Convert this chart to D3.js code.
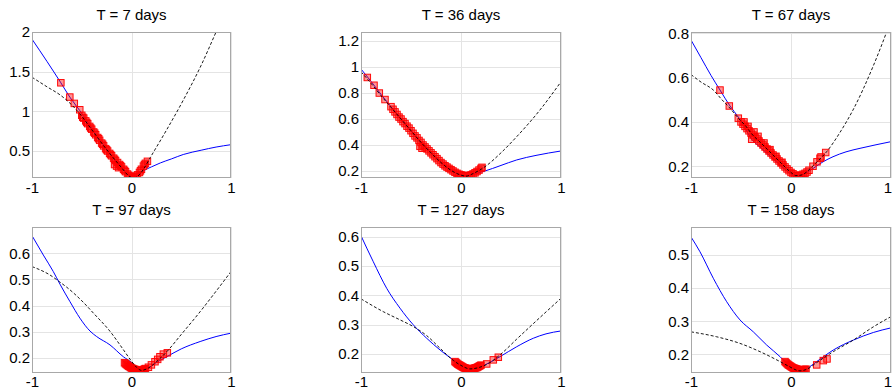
<!DOCTYPE html>
<html>
<head>
<meta charset="utf-8">
<script src="https://cdn.jsdelivr.net/npm/d3@7"></script>
<style>
  html, body { margin: 0; padding: 0; background: #fff; }
  svg { display: block; font-family: "Liberation Sans", Arial, sans-serif; }
</style>
</head>
<body>
<svg id="chart" width="893" height="390"></svg>
<script>
// ---- maturities (panel titles) ----
const maturities = ["T = 7 days", "T = 36 days", "T = 67 days", "T = 97 days", "T = 127 days", "T = 158 days"];

// ---- x axis: log-moneyness ----
const xTicks = [-1, 0, 1];

// ---- y tick labels per maturity ----
const yTicks7 = [0.5, 1, 1.5, 2];
const yTicks36 = [0.2, 0.4, 0.6, 0.8, 1, 1.2];
const yTicks67 = [0.2, 0.4, 0.6, 0.8];
const yTicks97 = [0.2, 0.3, 0.4, 0.5, 0.6];
const yTicks127 = [0.2, 0.3, 0.4, 0.5, 0.6];
const yTicks158 = [0.2, 0.3, 0.4, 0.5];

// ---- vertical ranges per maturity ----
const yRange7 = [0.16, 2.0];
const yRange36 = [0.146, 1.27];
const yRange67 = [0.147, 0.806];
const yRange97 = [0.143, 0.70];
const yRange127 = [0.134, 0.634];
const yRange158 = [0.1435, 0.585];

// ---- solid (blue) smile, [k, vol] ----
const solid7 = [[-1,1.91],[-0.85,1.63],[-0.71,1.36],[-0.62,1.18],[-0.52,1.01],[-0.4,0.79],[-0.3,0.61],[-0.2,0.44],[-0.1,0.29],[-0.03,0.19],[0,0.165],[0.05,0.18],[0.12,0.25],[0.2,0.30],[0.29,0.35],[0.4,0.40],[0.52,0.456],[0.7,0.51],[0.85,0.55],[1,0.58]];
const solid36 = [[-1,0.985],[-0.9,0.89],[-0.8,0.79],[-0.7,0.695],[-0.6,0.60],[-0.5,0.51],[-0.4,0.42],[-0.3,0.34],[-0.2,0.265],[-0.1,0.21],[0,0.17],[0.05,0.163],[0.12,0.175],[0.24,0.20],[0.39,0.24],[0.557,0.285],[0.75,0.32],[1,0.354]];
const solid67 = [[-1,0.77],[-0.9,0.69],[-0.8,0.61],[-0.71,0.544],[-0.61,0.472],[-0.527,0.422],[-0.477,0.386],[-0.393,0.322],[-0.3,0.283],[-0.243,0.259],[-0.15,0.222],[-0.05,0.182],[0.03,0.158],[0.08,0.156],[0.15,0.17],[0.22,0.19],[0.32,0.22],[0.42,0.243],[0.55,0.265],[0.69,0.281],[0.85,0.297],[1,0.311]];
const solid97 = [[-1,0.667],[-0.886,0.593],[-0.786,0.530],[-0.719,0.482],[-0.618,0.415],[-0.518,0.352],[-0.417,0.303],[-0.35,0.282],[-0.216,0.25],[-0.082,0.205],[0,0.183],[0.05,0.163],[0.1,0.155],[0.17,0.163],[0.25,0.183],[0.354,0.205],[0.5,0.235],[0.69,0.263],[0.85,0.282],[1,0.295]];
const solid127 = [[-1,0.604],[-0.877,0.515],[-0.743,0.424],[-0.61,0.356],[-0.477,0.299],[-0.343,0.253],[-0.21,0.213],[-0.077,0.179],[0,0.162],[0.09,0.15],[0.17,0.153],[0.257,0.165],[0.39,0.19],[0.557,0.224],[0.723,0.253],[0.85,0.268],[1,0.278]];
const solid158 = [[-1,0.555],[-0.91,0.51],[-0.777,0.43],[-0.643,0.359],[-0.51,0.304],[-0.377,0.268],[-0.243,0.228],[-0.11,0.193],[-0.06,0.178],[0,0.166],[0.09,0.153],[0.16,0.158],[0.257,0.178],[0.423,0.213],[0.623,0.243],[0.823,0.266],[1,0.28]];

// ---- dashed (black) smile, [k, vol] ----
const dashed7 = [[-1,1.43],[-0.85,1.31],[-0.71,1.20],[-0.6,1.08],[-0.52,0.97],[-0.4,0.77],[-0.3,0.60],[-0.2,0.44],[-0.1,0.29],[-0.03,0.19],[0.02,0.16],[0.06,0.18],[0.12,0.27],[0.19,0.42],[0.35,0.76],[0.52,1.14],[0.7,1.58],[0.85,2.0],[1,2.42]];
const dashed36 = [[-1,0.964],[-0.9,0.875],[-0.8,0.78],[-0.7,0.69],[-0.6,0.60],[-0.5,0.51],[-0.4,0.42],[-0.3,0.34],[-0.2,0.265],[-0.1,0.205],[0,0.168],[0.05,0.16],[0.12,0.18],[0.24,0.233],[0.4,0.34],[0.557,0.464],[0.79,0.67],[1,0.887]];
const dashed67 = [[-1,0.614],[-0.9,0.58],[-0.777,0.544],[-0.69,0.50],[-0.61,0.462],[-0.527,0.417],[-0.45,0.38],[-0.4,0.35],[-0.3,0.305],[-0.2,0.26],[-0.1,0.215],[0,0.172],[0.05,0.158],[0.1,0.16],[0.15,0.172],[0.2,0.193],[0.25,0.215],[0.357,0.266],[0.5,0.36],[0.62,0.454],[0.82,0.65],[0.957,0.807],[1,0.86]];
const dashed97 = [[-1,0.549],[-0.82,0.517],[-0.72,0.49],[-0.65,0.47],[-0.485,0.413],[-0.384,0.372],[-0.216,0.302],[-0.082,0.232],[0,0.188],[0.05,0.165],[0.1,0.153],[0.17,0.162],[0.25,0.186],[0.354,0.224],[0.5,0.29],[0.69,0.377],[0.85,0.455],[1,0.53]];
const dashed127 = [[-1,0.388],[-0.777,0.344],[-0.61,0.316],[-0.477,0.293],[-0.343,0.262],[-0.21,0.219],[-0.077,0.177],[0,0.16],[0.09,0.148],[0.17,0.152],[0.257,0.163],[0.39,0.196],[0.557,0.25],[0.723,0.303],[1,0.39]];
const dashed158 = [[-1,0.268],[-0.743,0.253],[-0.51,0.233],[-0.31,0.208],[-0.11,0.178],[-0.03,0.165],[0.09,0.15],[0.16,0.155],[0.257,0.175],[0.423,0.208],[0.623,0.243],[0.823,0.283],[1,0.314]];

// ---- market quotes (red squares), [k, vol] ----
const quotes7 = [[-0.71,1.36],[-0.62,1.18],[-0.575,1.10],[-0.52,1.02],
  [-0.50,0.95],[-0.48,0.915],[-0.46,0.88],[-0.44,0.845],[-0.42,0.81],[-0.40,0.775],[-0.38,0.74],[-0.36,0.705],[-0.34,0.67],[-0.32,0.635],[-0.30,0.60],[-0.28,0.565],[-0.26,0.53],[-0.24,0.50],[-0.22,0.47],[-0.20,0.44],[-0.18,0.41],[-0.16,0.38],[-0.14,0.355],[-0.12,0.33],[-0.10,0.30],[-0.08,0.27],[-0.06,0.24],[-0.04,0.21],[-0.02,0.185],[0,0.17],[0.02,0.165],[0.04,0.175],[0.06,0.20],[0.08,0.23],[0.10,0.27],[0.12,0.31],[0.14,0.345],[0.16,0.37],
  [-0.49,0.925],[-0.45,0.86],[-0.41,0.79],[-0.37,0.725],[-0.33,0.655],[-0.29,0.585],[-0.25,0.515],[-0.21,0.455],[-0.17,0.395],[-0.11,0.315],[-0.07,0.255],[-0.03,0.195],[0.01,0.165],[0.05,0.185],[0.09,0.25],[0.13,0.33],
  [-0.17,0.33],[-0.15,0.31],[-0.13,0.29]];
const quotes36 = [[-0.937,0.92],[-0.87,0.86],[-0.817,0.80],[-0.76,0.75],[-0.70,0.695],
  [-0.68,0.675],[-0.66,0.655],[-0.64,0.635],[-0.62,0.615],[-0.60,0.60],[-0.58,0.58],[-0.56,0.565],[-0.54,0.545],[-0.52,0.53],[-0.50,0.51],[-0.48,0.49],[-0.46,0.47],[-0.44,0.455],[-0.42,0.435],[-0.40,0.42],[-0.38,0.40],[-0.36,0.385],[-0.34,0.37],[-0.32,0.355],[-0.30,0.34],[-0.28,0.325],[-0.26,0.31],[-0.24,0.295],[-0.22,0.28],[-0.20,0.265],[-0.18,0.253],[-0.16,0.24],[-0.14,0.23],[-0.12,0.22],[-0.10,0.21],[-0.08,0.20],[-0.06,0.19],[-0.04,0.182],[-0.02,0.175],[0,0.17],[0.02,0.166],[0.04,0.163],[0.06,0.163],[0.08,0.165],[0.10,0.17],[0.12,0.177],[0.14,0.186],[0.16,0.196],[0.18,0.207],[0.20,0.22],[0.21,0.228],
  [-0.41,0.39],[-0.39,0.375]];
const quotes67 = [[-0.71,0.544],[-0.617,0.472],[-0.527,0.417],[-0.393,0.322],
  [-0.50,0.40],[-0.48,0.39],[-0.46,0.38],[-0.44,0.37],[-0.42,0.36],[-0.40,0.35],[-0.38,0.341],[-0.36,0.332],[-0.34,0.323],[-0.32,0.314],[-0.30,0.305],[-0.28,0.296],[-0.26,0.287],[-0.24,0.278],[-0.22,0.269],[-0.20,0.26],[-0.18,0.251],[-0.16,0.242],[-0.14,0.233],[-0.12,0.224],[-0.10,0.215],[-0.08,0.206],[-0.06,0.197],[-0.04,0.188],[-0.02,0.18],[0,0.172],[0.02,0.166],[0.04,0.16],[0.06,0.157],[0.08,0.157],[0.10,0.16],[0.12,0.164],[0.14,0.168],[0.16,0.174],[0.18,0.182],
  [-0.47,0.40],[-0.43,0.38],[-0.37,0.355],[-0.33,0.335],[-0.27,0.305],[-0.21,0.275],[-0.15,0.245],[-0.09,0.218],
  [0.22,0.20],[0.26,0.22],[0.29,0.236],[0.30,0.242],[0.347,0.262]];
const quotes97 = [[-0.07,0.182],[-0.06,0.178],[-0.05,0.175],[-0.04,0.172],[-0.03,0.169],[-0.02,0.167],[-0.01,0.164],[0,0.162],[0.01,0.16],[0.02,0.158],[0.03,0.157],[0.04,0.156],[0.05,0.155],[0.06,0.154],[0.07,0.153],[0.08,0.153],[0.09,0.153],[0.10,0.154],[0.11,0.155],[0.12,0.156],[0.13,0.158],[0.14,0.16],
  [0.17,0.165],[0.2,0.174],[0.236,0.186],[0.263,0.195],[0.286,0.205],[0.32,0.215],[0.36,0.22]];
const quotes127 = [[-0.06,0.173],[-0.05,0.17],[-0.04,0.167],[-0.03,0.164],[-0.02,0.162],[-0.01,0.16],[0,0.158],[0.01,0.156],[0.02,0.154],[0.03,0.152],[0.04,0.151],[0.05,0.15],[0.06,0.149],[0.07,0.148],[0.08,0.148],[0.09,0.148],[0.10,0.148],[0.11,0.148],[0.12,0.149],[0.13,0.15],[0.14,0.151],[0.15,0.152],[0.16,0.153],[0.17,0.155],[0.18,0.157],[0.19,0.159],[0.20,0.161],
  [0.257,0.165],[0.323,0.179],[0.373,0.188]];
const quotes158 = [[-0.06,0.178],[-0.05,0.175],[-0.04,0.172],[-0.03,0.169],[-0.02,0.167],[-0.01,0.165],[0,0.163],[0.01,0.161],[0.02,0.159],[0.03,0.158],[0.04,0.157],[0.05,0.156],[0.06,0.155],[0.07,0.154],[0.08,0.153],[0.09,0.153],[0.10,0.153],[0.11,0.153],[0.12,0.153],[0.13,0.154],[0.14,0.154],[0.15,0.155],
  [0.257,0.168],[0.323,0.181],[0.36,0.186]];

// assemble panels (row-major)
const panels = [
  { title: maturities[0], yDomain: yRange7,   yTicks: yTicks7,   solid: solid7,   dashed: dashed7,   quotes: quotes7 },
  { title: maturities[1], yDomain: yRange36,  yTicks: yTicks36,  solid: solid36,  dashed: dashed36,  quotes: quotes36 },
  { title: maturities[2], yDomain: yRange67,  yTicks: yTicks67,  solid: solid67,  dashed: dashed67,  quotes: quotes67 },
  { title: maturities[3], yDomain: yRange97,  yTicks: yTicks97,  solid: solid97,  dashed: dashed97,  quotes: quotes97 },
  { title: maturities[4], yDomain: yRange127, yTicks: yTicks127, solid: solid127, dashed: dashed127, quotes: quotes127 },
  { title: maturities[5], yDomain: yRange158, yTicks: yTicks158, solid: solid158, dashed: dashed158, quotes: quotes158 }
];

// grid of axes boxes
const colLeft = [32, 361, 691];
const colWidth = [199, 200, 200];
const rowTop = [32, 227];
const plotH = 146;
const pageW = 893;
const pageH = 390;

const svg = d3.select("#chart");
const fmt = d => String(d);

panels.forEach((p, i) => {
  const c = i % 3, r = Math.floor(i / 3);
  const x0 = colLeft[c], w = colWidth[c], y0 = rowTop[r];
  const x = d3.scaleLinear().domain([-1, 1]).range([x0, x0 + w]);
  const y = d3.scaleLinear().domain(p.yDomain).range([y0 + plotH, y0]);

  const g = svg.append("g");
  const clipId = "clip" + i;
  svg.append("clipPath").attr("id", clipId)
    .append("rect").attr("x", x0).attr("y", y0).attr("width", w).attr("height", plotH);

  // grid lines
  const grid = g.append("g").attr("stroke", "#e4e4e4").attr("stroke-width", 1).attr("shape-rendering", "crispEdges");
  grid.selectAll("line.h").data(p.yTicks).join("line").attr("class", "h")
    .attr("x1", x0).attr("x2", x0 + w)
    .attr("y1", d => Math.round(y(d)) + 0.5).attr("y2", d => Math.round(y(d)) + 0.5);
  grid.selectAll("line.v").data(xTicks).join("line").attr("class", "v")
    .attr("x1", d => Math.round(x(d)) + 0.5).attr("x2", d => Math.round(x(d)) + 0.5)
    .attr("y1", y0).attr("y2", y0 + plotH);

  // axes (labels only, frame drawn separately)
  const yAxis = d3.axisLeft(y).tickValues(p.yTicks).tickSize(0).tickPadding(2).tickFormat(fmt);
  const xAxis = d3.axisBottom(x).tickValues(xTicks).tickSize(0).tickPadding(4).tickFormat(fmt);
  const ya = g.append("g").attr("transform", `translate(${x0},0)`).call(yAxis);
  const xa = g.append("g").attr("transform", `translate(0,${y0 + plotH})`).call(xAxis);
  [ya, xa].forEach(a => {
    a.select(".domain").remove();
    a.selectAll("text").attr("font-size", 15).attr("fill", "#000")
      .attr("font-family", "Liberation Sans, Arial, sans-serif");
  });
  // keep x labels inside the page
  xa.selectAll(".tick text").each(function () {
    const t = d3.select(this);
    const bb = this.getBBox();
    const tr = this.parentNode.getAttribute("transform");
    const tx = +tr.match(/translate\(([-\d.]+)/)[1];
    const over = tx + bb.x + bb.width - (pageW - 1);
    if (over > 0) t.attr("dx", -over);
    const overY = y0 + plotH + bb.y + bb.height - pageH;
    if (overY > 0) t.attr("y", +t.attr("y") - overY);
  });

  const body = g.append("g").attr("clip-path", `url(#${clipId})`);
  const line = d3.line().x(d => x(d[0])).y(d => y(d[1])).curve(d3.curveMonotoneX);

  body.append("path").datum(p.solid).attr("d", line)
    .attr("fill", "none").attr("stroke", "#0000ff").attr("stroke-width", 1);

  const s = 6.5;
  body.append("g").selectAll("rect").data(p.quotes).join("rect")
    .attr("x", d => x(d[0]) - s / 2).attr("y", d => y(d[1]) - s / 2)
    .attr("width", s).attr("height", s)
    .attr("fill", "#ff0000").attr("fill-opacity", 0.42)
    .attr("stroke", "#ff0000").attr("stroke-opacity", 0.95).attr("stroke-width", 1);

  body.append("path").datum(p.dashed).attr("d", line)
    .attr("fill", "none").attr("stroke", "#000").attr("stroke-width", 0.9)
    .attr("stroke-dasharray", "3,2");

  // frame
  g.append("rect").attr("x", x0 + 0.5).attr("y", y0 + 0.5).attr("width", w - 1).attr("height", plotH - 1)
    .attr("fill", "none").attr("stroke", "#a8a8a8").attr("stroke-width", 1).attr("shape-rendering", "crispEdges");

  // title
  g.append("text").attr("x", x0 + w / 2).attr("y", y0 - 12.5)
    .attr("text-anchor", "middle").attr("font-size", 15).attr("fill", "#000")
    .text(p.title);
});
</script>
</body>
</html>
